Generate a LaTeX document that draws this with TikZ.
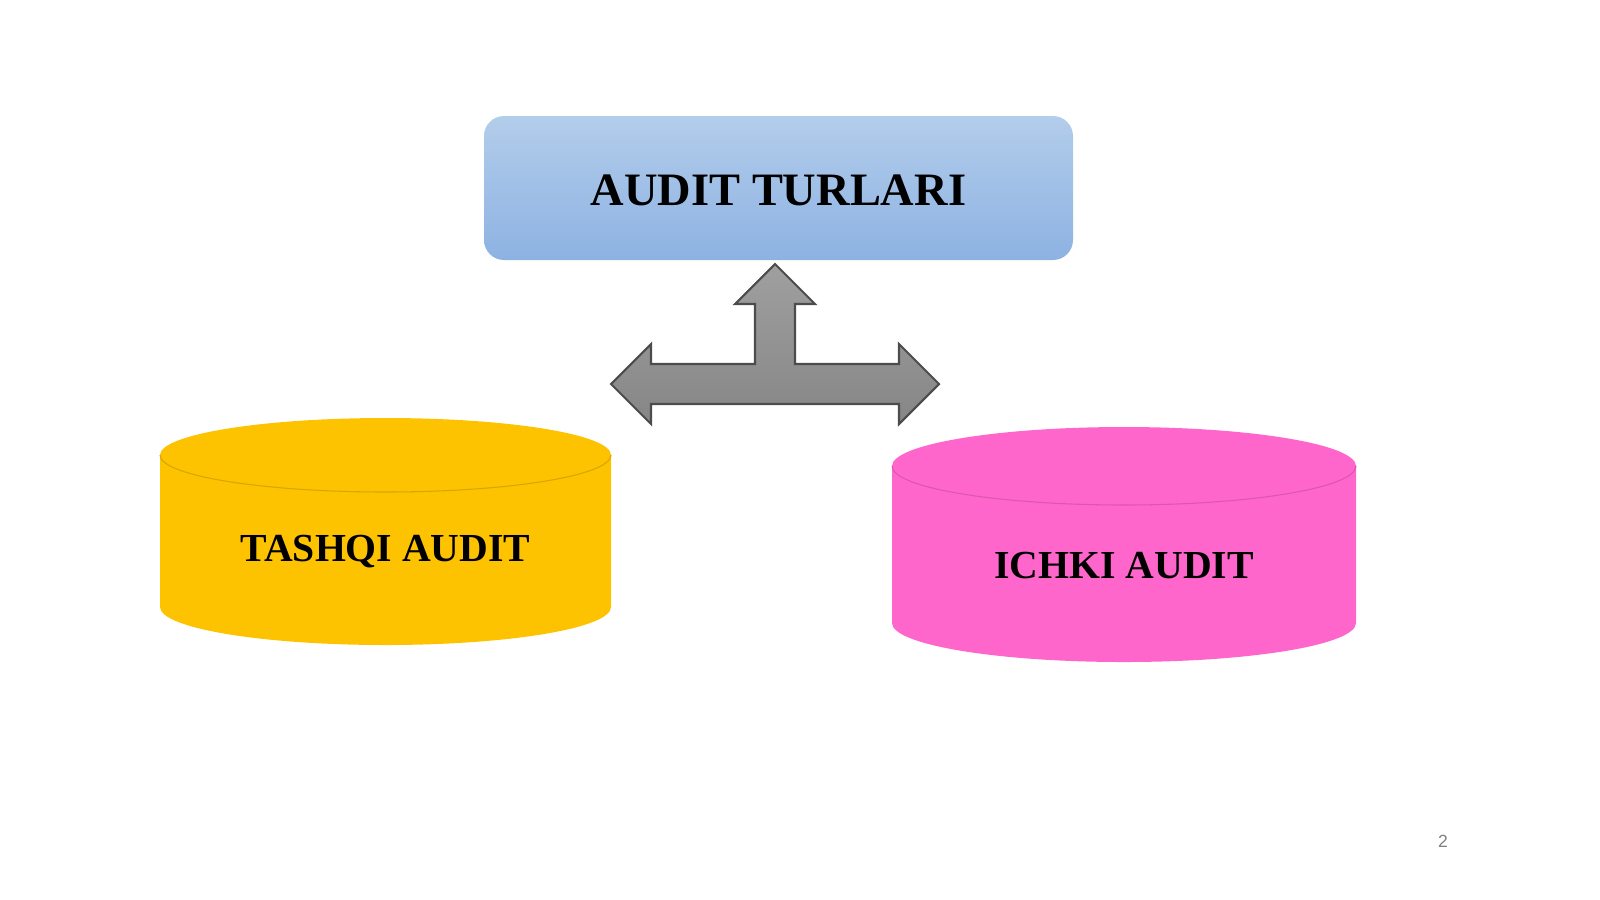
\documentclass[tikz,border=0pt]{standalone}
\usepackage{fontspec}
\setmainfont{Liberation Serif}
\setsansfont{Liberation Sans}
\definecolor{boxtop}{HTML}{B3CDEB}
\definecolor{boxbot}{HTML}{8DB2E2}
\definecolor{gold}{HTML}{FDC300}
\definecolor{pink}{HTML}{FF66CC}
\tikzset{
  lbl/.style={font=\bfseries, text=black},
}
\begin{document}
\begin{tikzpicture}[x=0.01cm, y=-0.01cm] % pixel grid
  \useasboundingbox (0,0) rectangle (1600,899);
  % top box
  \shade[top color=boxtop, bottom color=boxbot, rounded corners=0.2cm] (484,116) rectangle (1073,260);
  \node[lbl, font=\fontsize{13.2}{15}\selectfont\bfseries] (types) at (778.5,190) {AUDIT TURLARI};
  % three-way arrow
  \shade[top color=gray!75, bottom color=gray!95, draw=black!70, line width=0.6pt]
    (611,384) -- (651,344) -- (651,364) -- (755,364) -- (755,304) -- (735,304) -- (775,264)
    -- (815,304) -- (795,304) -- (795,364) -- (899,364) -- (899,344) -- (939,384)
    -- (899,424) -- (899,404) -- (651,404) -- (651,424) -- cycle;
  % left cylinder
  \fill[gold] (160,455) -- (160,607) arc[start angle=180, end angle=0, x radius=225.5, y radius=38]
    -- (611,455) arc[start angle=0, end angle=-180, x radius=225.5, y radius=37] -- cycle;
  \draw[gold!85!black, line width=0.3pt] (160,455) arc[start angle=180, end angle=0, x radius=225.5, y radius=37];
  \node[lbl, font=\fontsize{11.3}{14}\selectfont\bfseries] (ext) at (385.5,552) {TASHQI AUDIT};
  % right cylinder
  \fill[pink] (892,466) -- (892,623) arc[start angle=180, end angle=0, x radius=232, y radius=39]
    -- (1356,466) arc[start angle=0, end angle=-180, x radius=232, y radius=39] -- cycle;
  \draw[pink!85!black, line width=0.3pt] (892,466) arc[start angle=180, end angle=0, x radius=232, y radius=39];
  \node[lbl, font=\fontsize{11.3}{14}\selectfont\bfseries] (int) at (1124,566) {ICHKI AUDIT};
  % page number
  \node[text=gray, font=\sffamily\fontsize{5}{6}\selectfont] (page) at (1443,841) {2};
\end{tikzpicture}
\end{document}
